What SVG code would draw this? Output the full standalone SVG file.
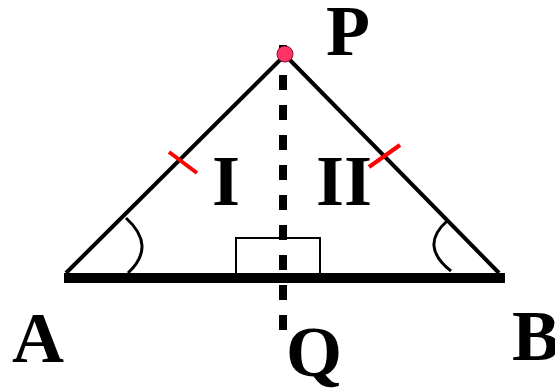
<svg xmlns="http://www.w3.org/2000/svg" width="555" height="389" viewBox="0 0 555 389">
<style>
.lbl{font-family:'Liberation Serif',Tinos,'Times New Roman',Times,serif;font-weight:700;font-size:72px;fill:#000}
.side{stroke:#000;stroke-width:4;fill:none}
.tick{stroke:#ff0000;stroke-width:4;fill:none}
.arc{stroke:#000;stroke-width:3;fill:none}
</style>
<rect width="555" height="389" fill="#fff"/>
<g id="connectors">
<line class="side" x1="66" y1="273" x2="285" y2="55"/>
<line class="side" x1="285" y1="55" x2="499" y2="273"/>
<rect x="236" y="238" width="84" height="36" fill="none" stroke="#000" stroke-width="2"/>
<line x1="64" y1="278" x2="505" y2="278" stroke="#000" stroke-width="10"/>
<line x1="283" y1="45" x2="283" y2="331" stroke="#000" stroke-width="8" stroke-dasharray="15 15"/>
<line class="tick" x1="169" y1="152" x2="197" y2="173"/>
<line class="tick" x1="369" y1="167" x2="400" y2="145"/>
<path class="arc" d="M126,218 Q157,246 128,273"/>
<path class="arc" d="M447,221 Q419,246 451,271"/>
</g>
<g id="P"><circle cx="285" cy="54" r="8" fill="#ff3366" stroke="#8a1030" stroke-width="1"/><text class="lbl" font-family="Liberation Serif" x="326" y="55">P</text></g>
<g id="A"><text class="lbl" font-family="Liberation Serif" x="12" y="362">A</text></g>
<g id="B"><text class="lbl" font-family="Liberation Serif" x="512" y="360">B</text></g>
<g id="Q"><text class="lbl" font-family="Liberation Serif" x="286" y="376">Q</text></g>
<g id="I"><text class="lbl" font-family="Liberation Serif" x="212" y="205">I</text></g>
<g id="II"><text class="lbl" font-family="Liberation Serif" x="316" y="205">II</text></g>
</svg>
